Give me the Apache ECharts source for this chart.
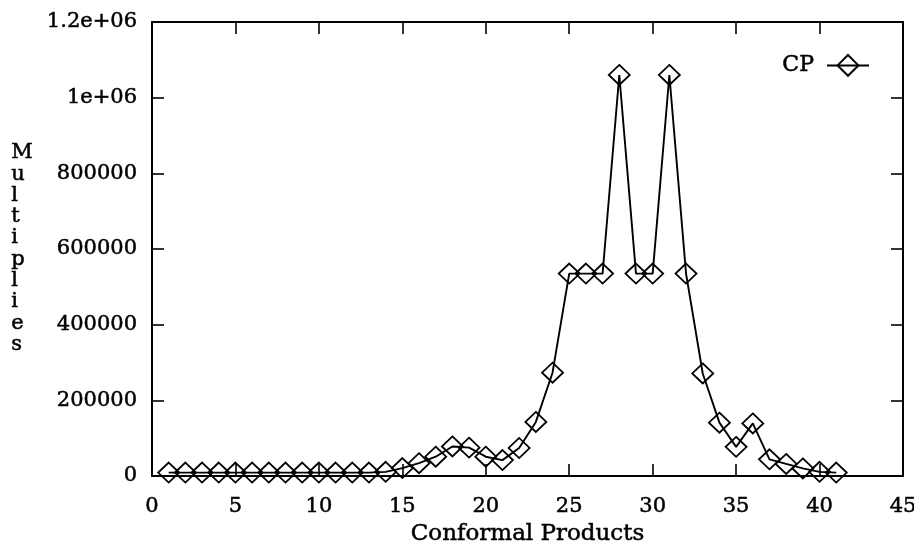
<!DOCTYPE html>
<html>
<head>
<meta charset="utf-8">
<title>CP multiplies</title>
<script src="https://cdn.jsdelivr.net/npm/echarts@6/dist/echarts.min.js"></script>
<style>
  html, body { margin: 0; padding: 0; background: #fff; }
  #chart { width: 914px; height: 546px; }
</style>
</head>
<body>
<div id="chart"></div>
<script>
// Number of conformal products on the x axis
var products = [1, 2, 3, 4, 5, 6, 7, 8, 9, 10,
                11, 12, 13, 14, 15, 16, 17, 18, 19, 20,
                21, 22, 23, 24, 25, 26, 27, 28, 29, 30,
                31, 32, 33, 34, 35, 36, 37, 38, 39, 40, 41];

// Multiplies for each product count (series "CP")
var multiplies = [9000, 9000, 9000, 9000, 9000, 9000, 9000, 9000, 9000, 9000,
                  9000, 9000, 9000, 11000, 21000, 34000, 51000, 78000, 75000, 51000,
                  42000, 74000, 143000, 273000, 535000, 535000, 535000, 1060000, 535000, 535000,
                  1060000, 535000, 271000, 141000, 77000, 139000, 44000, 32000, 20000, 11000,
                  9000];

var seriesName = 'CP';
var xTickLabels = ['0', '5', '10', '15', '20', '25', '30', '35', '40', '45'];
var yTickLabels = ['0', '200000', '400000', '600000', '800000', '1e+06', '1.2e+06'];
var xTitle = 'Conformal Products';
var yTitle = 'Multiplies';

var FONT = 'DejaVu Serif';
// thin outline gives the serif text a slightly heavier, print-like weight
var INK = { textBorderColor: '#000', textBorderWidth: 0.5 };

var points = products.map(function (p, i) { return [p, multiplies[i]]; });

var chart = echarts.init(document.getElementById('chart'), null, { renderer: 'canvas' });

var frameLine = { show: true, onZero: false, lineStyle: { color: '#000', width: 2 } };
var inTicks = { show: true, inside: true, length: 12, lineStyle: { color: '#000', width: 1.6 } };

function txt(size, extra) {
  return Object.assign({ fontFamily: FONT, fontSize: size, color: '#000' }, INK, extra || {});
}

chart.setOption({
  backgroundColor: '#fff',
  animation: false,
  grid: { left: 152, right: 11, top: 22, bottom: 70, containLabel: false, outerBoundsMode: 'none' },
  legend: {
    data: [seriesName],
    right: 39,
    top: 49,
    align: 'right',
    itemWidth: 42,
    itemHeight: 26,
    textStyle: txt(22, { padding: [0, 8, 0, 0] })
  },
  xAxis: [{
    type: 'value',
    min: 0, max: 45, interval: 5,
    name: xTitle,
    nameLocation: 'middle',
    nameGap: 47,
    nameTextStyle: txt(23),
    axisLine: frameLine,
    axisTick: inTicks,
    splitLine: { show: false },
    axisLabel: Object.assign({
      margin: 20,
      formatter: function (v) { return xTickLabels[Math.round(v / 5)]; }
    }, txt(21))
  }, {
    type: 'value',
    position: 'top',
    min: 0, max: 45, interval: 5,
    axisLine: frameLine,
    axisTick: inTicks,
    splitLine: { show: false },
    axisLabel: { show: false }
  }],
  yAxis: [{
    type: 'value',
    min: 0, max: 1200000, interval: 200000,
    axisLine: frameLine,
    axisTick: inTicks,
    splitLine: { show: false },
    axisLabel: Object.assign({
      margin: 15,
      formatter: function (v) { return yTickLabels[Math.round(v / 200000)]; }
    }, txt(21))
  }, {
    type: 'value',
    position: 'right',
    min: 0, max: 1200000, interval: 200000,
    axisLine: frameLine,
    axisTick: inTicks,
    splitLine: { show: false },
    axisLabel: { show: false }
  }],
  graphic: [{
    type: 'text',
    left: 11,
    top: 142,
    style: {
      text: yTitle.split('').join('\n'),
      fontFamily: FONT,
      fontSize: 21,
      lineHeight: 21.3,
      fill: '#000',
      stroke: '#000',
      lineWidth: 0.5,
      align: 'center'
    }
  }],
  series: [{
    name: seriesName,
    type: 'line',
    xAxisIndex: 0,
    yAxisIndex: 0,
    data: points,
    color: '#000',
    showAllSymbol: true,
    symbol: 'diamond',
    symbolSize: [21, 20],
    itemStyle: { color: 'rgba(0,0,0,0)', borderColor: '#000', borderWidth: 1.8 },
    lineStyle: { color: '#000', width: 1.9 },
    emphasis: { disabled: true }
  }]
});
</script>
</body>
</html>
